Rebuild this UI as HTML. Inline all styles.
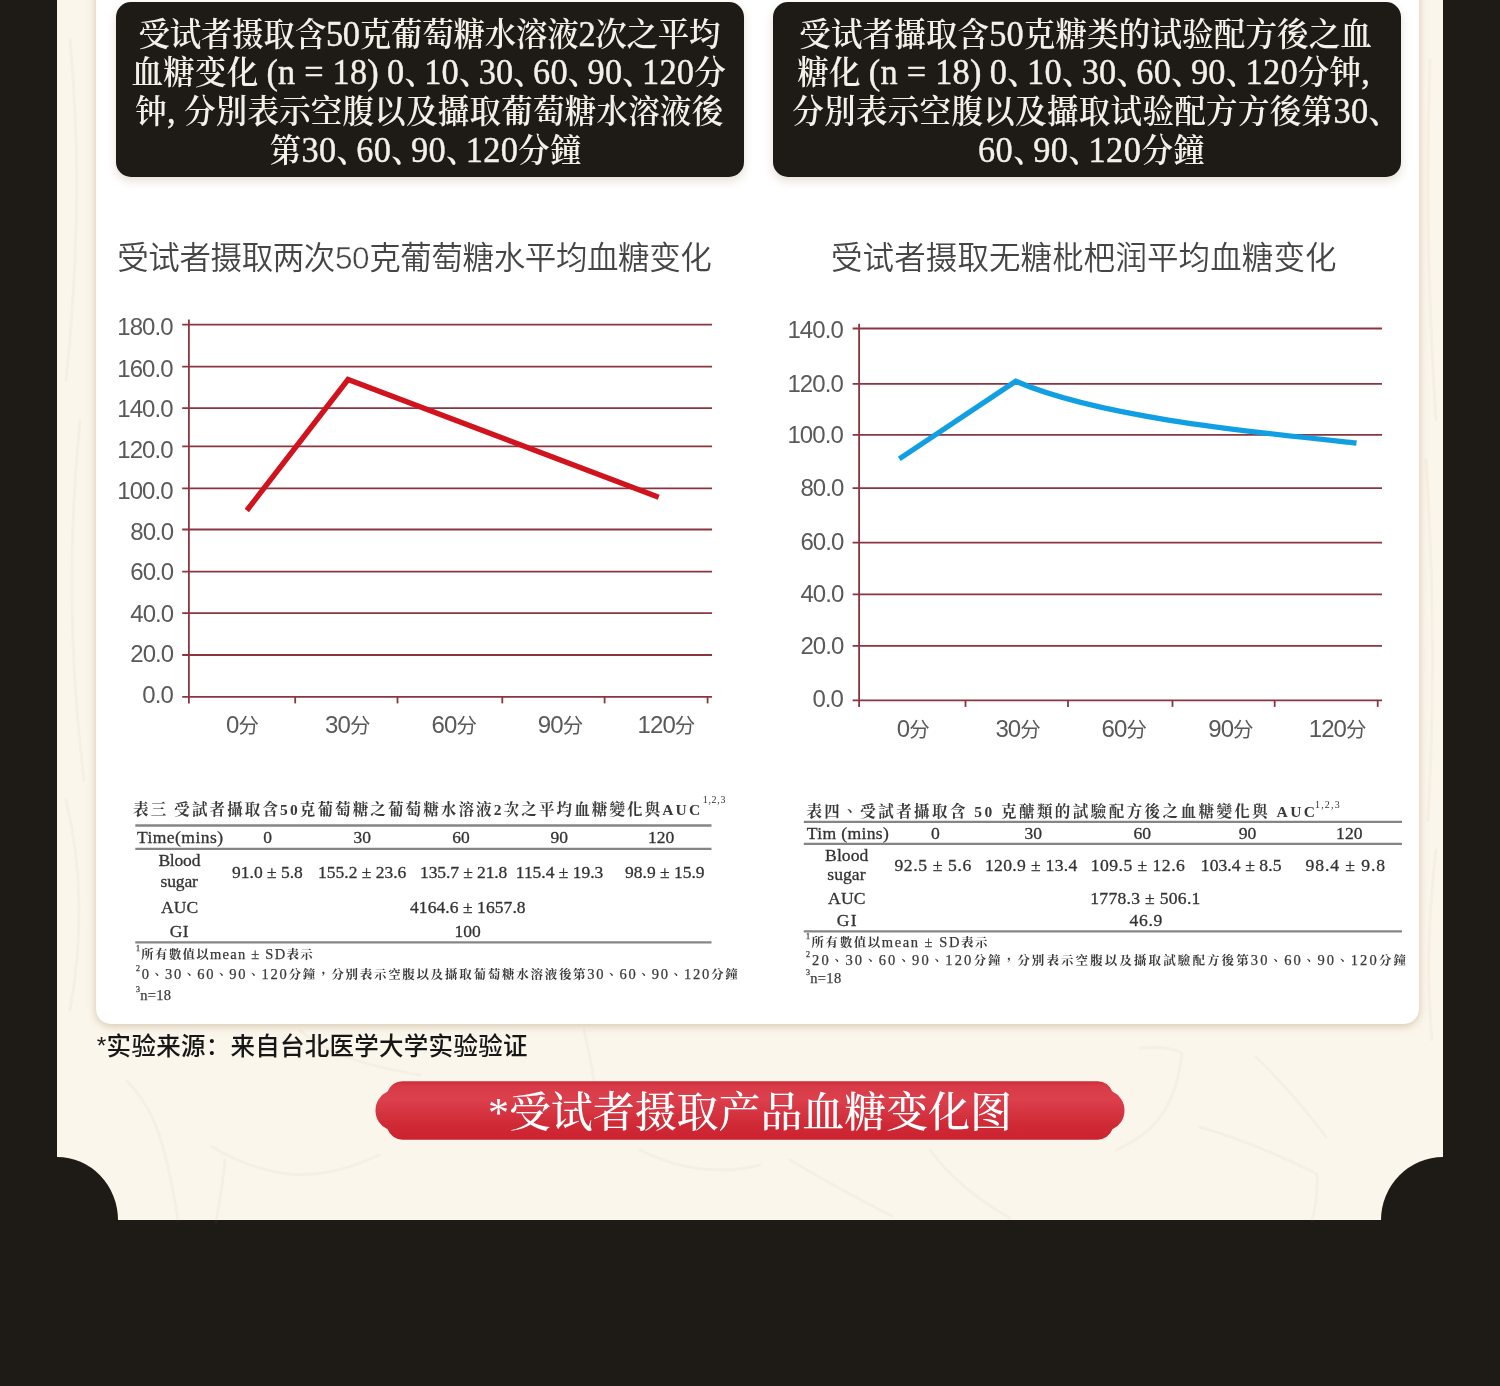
<!DOCTYPE html>
<html lang="zh">
<head>
<meta charset="utf-8">
<title>受试者摄取产品血糖变化图</title>
<style>
*{box-sizing:border-box;margin:0;padding:0}
html,body{width:1500px;height:1386px;overflow:hidden;background:#1e1b17}
body{position:relative;font-family:"Liberation Sans","Noto Sans CJK SC",sans-serif}
.panel{position:absolute;left:57px;top:0;width:1386px;height:1220px;background:#fbf6ec;overflow:hidden}
.panel2{position:absolute;left:57px;top:0;width:1386px;height:1220px;overflow:hidden}
.notch{position:absolute;height:126px;border-radius:50%;background:#1e1b17;top:1157.2px}
.notch.l{left:-60.8px;width:121.6px}
.notch.r{right:-62.5px;width:125px}
.card{position:absolute;left:39.4px;top:-30px;width:1322.6px;height:1053.5px;background:#fff;border-radius:0 0 15px 15px;box-shadow:0 2px 9px rgba(160,130,85,.42)}
.dbox{position:absolute;top:1.5px;height:175.8px;background:#1e1b17;border-radius:15px;box-shadow:0 4px 10px rgba(140,110,70,.22)}
.t{position:absolute;white-space:nowrap;line-height:1.2}
.db{font-family:"Liberation Serif","Noto Serif CJK SC",serif;font-size:31.5px;font-weight:600;color:#f3f0ea;transform:scaleY(1.05)}
.db .n{font-size:1.09em;line-height:0;font-weight:400;-webkit-text-stroke:.4px #f3f0ea}
.db .d{margin-right:-.38em}
.ti{font-family:"Liberation Sans","Noto Sans CJK SC",sans-serif;font-weight:350;font-size:31.5px;color:#454545}
.ti .n{-webkit-text-stroke:.45px #fff}
.ax{font-family:"Liberation Sans","Noto Sans CJK SC",sans-serif;font-size:24px;color:#595959}
.ax .f{font-size:20.5px}
.tc{font-family:"Liberation Serif","Noto Serif CJK SC",serif;font-size:15.5px;color:#3a3a3a;font-weight:700}
.tb{font-family:"Liberation Serif","Noto Serif CJK SC",serif;font-size:17.5px;color:#333;-webkit-text-stroke:.3px #333}
.tf{font-family:"Liberation Serif","Noto Serif CJK SC",serif;font-size:14.5px;color:#3a3a3a;-webkit-text-stroke:.25px #3a3a3a}
.tf .k{font-size:12.5px;font-weight:700;-webkit-text-stroke:0}
.tb2{font-size:17.6px}
.ts{font-family:"Liberation Serif","Noto Serif CJK SC",serif;font-size:10px;color:#333}
.tf sup{font-size:8px;vertical-align:top;position:relative;top:-1px;line-height:1}
.fn{font-family:"Liberation Sans","Noto Sans CJK SC",sans-serif;font-size:24.5px;font-weight:500;color:#171717}
.fn .s{font-weight:400;position:relative;top:-1px}
.bt{font-family:"Liberation Serif","Noto Serif CJK SC",serif;font-size:42px;font-weight:500;color:#fff}
.btn{position:absolute;left:375px;top:1081px;width:750px;height:59px}
svg{position:absolute;left:0;top:0}
</style>
</head>
<body>
<div class="panel"></div>
<svg width="1500" height="1386" viewBox="0 0 1500 1386" fill="none" stroke="#b79f78" stroke-opacity=".07" stroke-width="3" stroke-linecap="round"><path d="M127 1081 Q150 1105 160 1137 T178 1220"/><path d="M211 1146 Q250 1170 290 1174 T379 1155"/><path d="M225 1160 Q222 1190 216 1222"/><path d="M584 1030 Q590 1055 594 1081"/><path d="M300 1030 Q330 1060 420 1075"/><path d="M1140 1048 Q1170 1046 1182 1053 Q1178 1090 1163 1113 T1116 1150"/><path d="M1200 1127 Q1260 1145 1317 1174 Q1318 1200 1312 1220"/><path d="M790 1160 Q840 1190 892 1216"/><path d="M1256 1057 Q1295 1095 1326 1137"/><path d="M640 1150 Q700 1180 760 1165"/><path d="M930 1150 Q960 1190 1010 1218"/><path d="M70 40 Q85 200 66 380"/><path d="M80 420 Q62 600 84 780"/><path d="M66 800 Q90 900 70 1010"/><path d="M1430 60 Q1424 240 1436 420"/><path d="M1426 460 Q1438 640 1428 820"/><path d="M1436 850 Q1424 950 1432 1040"/></svg>
<div class="panel2"><div class="card"></div><div class="notch l"></div><div class="notch r"></div></div>
<div class="dbox" style="left:116px;width:628.3px"></div>
<div class="dbox" style="left:772.8px;width:628.6px"></div>
<svg width="1500" height="1386" viewBox="0 0 1500 1386" fill="none">
<g stroke="#8a3540" stroke-width="1.8">
<line x1="182.2" y1="324.7" x2="712" y2="324.7"/>
<line x1="182.2" y1="366.7" x2="712" y2="366.7"/>
<line x1="182.2" y1="408.2" x2="712" y2="408.2"/>
<line x1="182.2" y1="446.3" x2="712" y2="446.3"/>
<line x1="182.2" y1="488.3" x2="712" y2="488.3"/>
<line x1="182.2" y1="529.5" x2="712" y2="529.5"/>
<line x1="182.2" y1="571.6" x2="712" y2="571.6"/>
<line x1="182.2" y1="613.2" x2="712" y2="613.2"/>
<line x1="182.2" y1="655" x2="712" y2="655"/>
<line x1="182.2" y1="696.9" x2="712" y2="696.9"/>
<line x1="188.9" y1="319.6" x2="188.9" y2="703.4"/>
<line x1="295.2" y1="696.9" x2="295.2" y2="703.4"/>
<line x1="397.5" y1="696.9" x2="397.5" y2="703.4"/>
<line x1="502.3" y1="696.9" x2="502.3" y2="703.4"/>
<line x1="604.6" y1="696.9" x2="604.6" y2="703.4"/>
<line x1="707.6" y1="696.9" x2="707.6" y2="703.4"/>
<line x1="852.6" y1="328.5" x2="1382" y2="328.5"/>
<line x1="852.6" y1="383.9" x2="1382" y2="383.9"/>
<line x1="852.6" y1="434.8" x2="1382" y2="434.8"/>
<line x1="852.6" y1="488.2" x2="1382" y2="488.2"/>
<line x1="852.6" y1="542.7" x2="1382" y2="542.7"/>
<line x1="852.6" y1="594.3" x2="1382" y2="594.3"/>
<line x1="852.6" y1="645.8" x2="1382" y2="645.8"/>
<line x1="852.6" y1="700.4" x2="1382" y2="700.4"/>
<line x1="859.1" y1="323.7" x2="859.1" y2="706.9"/>
<line x1="965.5" y1="700.4" x2="965.5" y2="706.9"/>
<line x1="1068" y1="700.4" x2="1068" y2="706.9"/>
<line x1="1172.5" y1="700.4" x2="1172.5" y2="706.9"/>
<line x1="1274.7" y1="700.4" x2="1274.7" y2="706.9"/>
<line x1="1377.7" y1="700.4" x2="1377.7" y2="706.9"/>
</g>
<polyline points="246.8,510.5 348,379.5 658.7,497.3" stroke="#d0131c" stroke-width="5.4" stroke-linejoin="miter"/>
<path d="M899.3 458.9 L1015.7 381.3 C1100 417.6 1250 431.9 1356.5 443" stroke="#119fe4" stroke-width="5.3" stroke-linejoin="miter"/>
<g stroke="#858585" stroke-width="2.3">
<line x1="135.3" y1="825.5" x2="711.5" y2="825.5"/>
<line x1="135.3" y1="848.9" x2="711.5" y2="848.9"/>
<line x1="135.3" y1="942.4" x2="711.5" y2="942.4"/>
<line x1="803.8" y1="821.8" x2="1402" y2="821.8"/>
<line x1="803.8" y1="843.8" x2="1402" y2="843.8"/>
<line x1="803.8" y1="931.4" x2="1402" y2="931.4"/>
</g>
<defs><linearGradient id="bg" x1="0" y1="0" x2="0" y2="1"><stop offset="0" stop-color="#cb2c39"/><stop offset=".08" stop-color="#d83a47"/><stop offset=".3" stop-color="#dc404d"/><stop offset=".75" stop-color="#d02936"/><stop offset="1" stop-color="#cb2230"/></linearGradient></defs>
<path d="M402.3 1081.2 H1097.7 A15.75 15.75 0 0 1 1112.4 1091.6 A20.7 20.7 0 0 1 1112.4 1129.3 A15.75 15.75 0 0 1 1097.7 1139.7 H402.3 A15.75 15.75 0 0 1 387.6 1129.3 A20.7 20.7 0 0 1 387.6 1091.6 A15.75 15.75 0 0 1 402.3 1081.2 Z" fill="url(#bg)"/>
</svg>
<div class="t db" style="left:138.5px;top:15.7px;letter-spacing:-0.26px">受试者摄取含<span class="n">50</span>克葡萄糖水溶液<span class="n">2</span>次之平均</div>
<div class="t db" style="left:131.6px;top:53.7px;letter-spacing:0.2px">血糖变化 <span class="n">(n = 18)</span> <span class="n">0</span><span class="d">、</span><span class="n">10</span><span class="d">、</span><span class="n">30</span><span class="d">、</span><span class="n">60</span><span class="d">、</span><span class="n">90</span><span class="d">、</span><span class="n">120</span>分</div>
<div class="t db" style="left:135.3px;top:92.5px;letter-spacing:0.23px">钟<span class="n">,</span> 分別表示空腹以及攝取葡萄糖水溶液後</div>
<div class="t db" style="left:269.7px;top:131.5px;letter-spacing:0.29px">第<span class="n">30</span><span class="d">、</span><span class="n">60</span><span class="d">、</span><span class="n">90</span><span class="d">、</span><span class="n">120</span>分鐘</div>
<div class="t db" style="left:799.3px;top:15.7px;letter-spacing:0.15px">受试者攝取含<span class="n">50</span>克糖类的试验配方後之血</div>
<div class="t db" style="left:797.2px;top:53.7px;letter-spacing:0.25px">糖化 <span class="n">(n = 18)</span> <span class="n">0</span><span class="d">、</span><span class="n">10</span><span class="d">、</span><span class="n">30</span><span class="d">、</span><span class="n">60</span><span class="d">、</span><span class="n">90</span><span class="d">、</span><span class="n">120</span>分钟<span class="n">,</span></div>
<div class="t db" style="left:792.3px;top:92.5px;letter-spacing:0.33px">分別表示空腹以及攝取试验配方方後第<span class="n">30</span><span class="d">、</span></div>
<div class="t db" style="left:977.9px;top:131.5px;letter-spacing:0.47px"><span class="n">60</span><span class="d">、</span><span class="n">90</span><span class="d">、</span><span class="n">120</span>分鐘</div>
<div class="t ti" style="left:117.2px;top:239.8px;letter-spacing:-0.39px">受试者摄取两次<span class="n">50</span>克葡萄糖水平均血糖变化</div>
<div class="t ti" style="left:831px;top:239.8px;letter-spacing:0.1px">受试者摄取无糖枇杷润平均血糖变化</div>
<div class="t ax" style="left:117.2px;top:312.9px;letter-spacing:-0.9px">180.0</div>
<div class="t ax" style="left:117.2px;top:354.6px;letter-spacing:-0.9px">160.0</div>
<div class="t ax" style="left:117.2px;top:395px;letter-spacing:-0.9px">140.0</div>
<div class="t ax" style="left:117.2px;top:436.2px;letter-spacing:-0.9px">120.0</div>
<div class="t ax" style="left:117.2px;top:476.5px;letter-spacing:-0.9px">100.0</div>
<div class="t ax" style="left:130.2px;top:517.8px;letter-spacing:-0.9px">80.0</div>
<div class="t ax" style="left:130.2px;top:558.2px;letter-spacing:-0.9px">60.0</div>
<div class="t ax" style="left:130.2px;top:599.5px;letter-spacing:-0.9px">40.0</div>
<div class="t ax" style="left:130.2px;top:639.7px;letter-spacing:-0.9px">20.0</div>
<div class="t ax" style="left:142.2px;top:681.2px;letter-spacing:-0.9px">0.0</div>
<div class="t ax" style="left:787.4px;top:316.3px;letter-spacing:-0.9px">140.0</div>
<div class="t ax" style="left:787.4px;top:370.1px;letter-spacing:-0.9px">120.0</div>
<div class="t ax" style="left:787.4px;top:421px;letter-spacing:-0.9px">100.0</div>
<div class="t ax" style="left:800.4px;top:474.4px;letter-spacing:-0.9px">80.0</div>
<div class="t ax" style="left:800.4px;top:527.5px;letter-spacing:-0.9px">60.0</div>
<div class="t ax" style="left:800.4px;top:580.1px;letter-spacing:-0.9px">40.0</div>
<div class="t ax" style="left:800.4px;top:631.9px;letter-spacing:-0.9px">20.0</div>
<div class="t ax" style="left:812.4px;top:684.9px;letter-spacing:-0.9px">0.0</div>
<div class="t ax" style="left:226px;top:710.9px;letter-spacing:-0.9px">0<span class="f">分</span></div>
<div class="t ax" style="left:325px;top:710.9px;letter-spacing:-0.9px">30<span class="f">分</span></div>
<div class="t ax" style="left:431.5px;top:710.9px;letter-spacing:-0.9px">60<span class="f">分</span></div>
<div class="t ax" style="left:537.8px;top:710.9px;letter-spacing:-0.9px">90<span class="f">分</span></div>
<div class="t ax" style="left:637.5px;top:710.9px;letter-spacing:-0.9px">120<span class="f">分</span></div>
<div class="t ax" style="left:896.7px;top:714.8px;letter-spacing:-0.9px">0<span class="f">分</span></div>
<div class="t ax" style="left:995.4px;top:714.8px;letter-spacing:-0.9px">30<span class="f">分</span></div>
<div class="t ax" style="left:1101.5px;top:714.8px;letter-spacing:-0.9px">60<span class="f">分</span></div>
<div class="t ax" style="left:1208.2px;top:714.8px;letter-spacing:-0.9px">90<span class="f">分</span></div>
<div class="t ax" style="left:1308.7px;top:714.8px;letter-spacing:-0.9px">120<span class="f">分</span></div>
<div lang="zh-TW" class="t tc" style="left:133px;top:800.6px;letter-spacing:2.13px">表三 受試者攝取含50克葡萄糖之葡萄糖水溶液2次之平均血糖變化與AUC</div>
<div class="t ts" style="left:702.8px;top:793.9px;letter-spacing:0.65px">1,2,3</div>
<div class="t tb" style="left:137px;top:826.9px;letter-spacing:0.44px">Time(mins)</div>
<div class="t tb" style="left:263.3px;top:827.1px">0</div>
<div class="t tb" style="left:353.4px;top:827.1px">30</div>
<div class="t tb" style="left:452.2px;top:827.1px">60</div>
<div class="t tb" style="left:550.5px;top:827.1px">90</div>
<div class="t tb" style="left:647.9px;top:827.1px">120</div>
<div class="t tb" style="left:158.4px;top:849.6px;letter-spacing:-0.2px">Blood</div>
<div class="t tb" style="left:160.6px;top:871.1px;letter-spacing:-0.15px">sugar</div>
<div class="t tb" style="left:232px;top:861.5px">91.0 ± 5.8</div>
<div class="t tb" style="left:318px;top:861.5px">155.2 ± 23.6</div>
<div class="t tb" style="left:420px;top:861.5px;letter-spacing:-0.09px">135.7 ± 21.8</div>
<div class="t tb" style="left:515.8px;top:861.5px;letter-spacing:-0.02px">115.4 ± 19.3</div>
<div class="t tb" style="left:625px;top:861.5px">98.9 ± 15.9</div>
<div class="t tb" style="left:161px;top:896.5px;letter-spacing:0.15px">AUC</div>
<div class="t tb" style="left:410px;top:896.5px;letter-spacing:0.07px">4164.6 ± 1657.8</div>
<div class="t tb" style="left:169.8px;top:920.9px;letter-spacing:0.2px">GI</div>
<div class="t tb" style="left:454.6px;top:920.9px;letter-spacing:-0.05px">100</div>
<div lang="zh-TW" class="t tf" style="left:136px;top:945.8px;letter-spacing:1.25px"><sup>1</sup><span class="k">所有數值以</span>mean ± SD<span class="k">表示</span></div>
<div lang="zh-TW" class="t tf" style="left:136px;top:965.6px;letter-spacing:1.73px"><sup>2</sup>0<span class="k">、</span>30<span class="k">、</span>60<span class="k">、</span>90<span class="k">、</span>120<span class="k">分鐘，分別表示空腹以及攝取葡萄糖水溶液後第</span>30<span class="k">、</span>60<span class="k">、</span>90<span class="k">、</span>120<span class="k">分鐘</span></div>
<div lang="zh-TW" class="t tf" style="left:136px;top:986.5px;letter-spacing:0.25px"><sup>3</sup>n=18</div>
<div lang="zh-TW" class="t tc" style="left:806.4px;top:802.8px;letter-spacing:2.45px">表四、受試者攝取含 50 克醣類的試驗配方後之血糖變化與 AUC</div>
<div class="t ts" style="left:1315px;top:798.8px;letter-spacing:1.18px">1,2,3</div>
<div class="t tb tb2" style="left:806.8px;top:823px;letter-spacing:0.34px">Tim (mins)</div>
<div class="t tb tb2" style="left:931px;top:823.1px">0</div>
<div class="t tb tb2" style="left:1024.5px;top:823.1px">30</div>
<div class="t tb tb2" style="left:1133.5px;top:823.1px">60</div>
<div class="t tb tb2" style="left:1238.8px;top:823.1px">90</div>
<div class="t tb tb2" style="left:1336.1px;top:823.1px">120</div>
<div class="t tb tb2" style="left:825.1px;top:844.8px;letter-spacing:0.07px">Blood</div>
<div class="t tb tb2" style="left:827.3px;top:863.7px;letter-spacing:0.03px">sugar</div>
<div class="t tb tb2" style="left:894.4px;top:854.6px;letter-spacing:0.62px">92.5 ± 5.6</div>
<div class="t tb tb2" style="left:985px;top:854.6px;letter-spacing:0.32px">120.9 ± 13.4</div>
<div class="t tb tb2" style="left:1090.8px;top:854.6px;letter-spacing:0.47px">109.5 ± 12.6</div>
<div class="t tb tb2" style="left:1200.8px;top:854.6px;letter-spacing:0.06px">103.4 ± 8.5</div>
<div class="t tb tb2" style="left:1305.6px;top:854.6px;letter-spacing:0.91px">98.4 ± 9.8</div>
<div class="t tb tb2" style="left:828px;top:887.7px;letter-spacing:0.2px">AUC</div>
<div class="t tb tb2" style="left:1090.3px;top:887.7px;letter-spacing:0.28px">1778.3 ± 506.1</div>
<div class="t tb tb2" style="left:836.8px;top:910.3px;letter-spacing:1.2px">GI</div>
<div class="t tb tb2" style="left:1129.6px;top:910.3px;letter-spacing:0.63px">46.9</div>
<div lang="zh-TW" class="t tf" style="left:806px;top:933.7px;letter-spacing:1.55px"><sup>1</sup><span class="k">所有數值以</span>mean ± SD<span class="k">表示</span></div>
<div lang="zh-TW" class="t tf" style="left:806px;top:952.4px;letter-spacing:2.1px"><sup>2</sup>20<span class="k">、</span>30<span class="k">、</span>60<span class="k">、</span>90<span class="k">、</span>120<span class="k">分鐘，分別表示空腹以及攝取試驗配方後第</span>30<span class="k">、</span>60<span class="k">、</span>90<span class="k">、</span>120<span class="k">分鐘</span></div>
<div lang="zh-TW" class="t tf" style="left:806px;top:970px;letter-spacing:0.3px"><sup>3</sup>n=18</div>
<div class="t fn" style="left:96.8px;top:1031.7px;letter-spacing:0.27px"><span class="s">*</span>实验来源：来自台北医学大学实验验证</div>
<div class="t bt" style="left:488px;top:1088px;letter-spacing:-0.08px">*受试者摄取产品血糖变化图</div>
</body>
</html>
